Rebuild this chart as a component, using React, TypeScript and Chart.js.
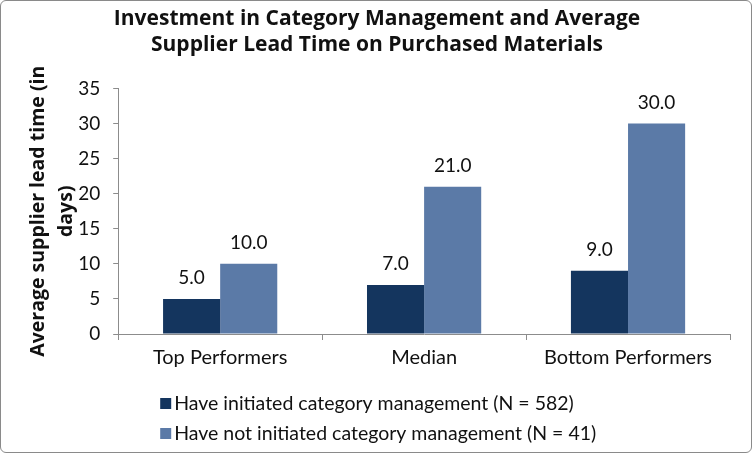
import React, { useEffect, useRef } from "react";
import { Chart, registerables } from "chart.js";

Chart.register(...registerables);

const categories = ["Top Performers", "Median", "Bottom Performers"];
const initiatedLabel = "Have initiated category management (N = 582)";
const notInitiatedLabel = "Have not initiated category management (N = 41)";
const initiatedValues = [5.0, 7.0, 9.0];
const notInitiatedValues = [10.0, 21.0, 30.0];
const yTicks = [0, 5, 10, 15, 20, 25, 30, 35];
const titleLines = [
  "Investment in Category Management and Average",
  "Supplier Lead Time on Purchased Materials",
];
const yTitleLines = ["Average supplier lead time (in", "days)"];

const DARK = "#14355e";
const LIGHT = "#5b7aa7";
const FONT = "Lato, 'Open Sans', sans-serif";
const BOLD_FONT = "'Open Sans', Lato, sans-serif";

const dataLabelPlugin = {
  id: "dataLabels",
  afterDatasetsDraw(chart: any) {
    const ctx = chart.ctx;
    ctx.save();
    ctx.font = `19px ${FONT}`;
    ctx.fillStyle = "#111";
    ctx.textAlign = "center";
    ctx.textBaseline = "alphabetic";
    chart.data.datasets.forEach((ds: any, i: number) => {
      const meta = chart.getDatasetMeta(i);
      meta.data.forEach((bar: any, j: number) => {
        ctx.fillText(Number(ds.data[j]).toFixed(1), bar.x, bar.y - 15);
      });
    });
    ctx.restore();
  },
};

const legendPlugin = {
  id: "customLegend",
  afterDraw(chart: any) {
    const ctx = chart.ctx;
    const area = chart.chartArea;
    ctx.save();
    ctx.font = `19.5px ${FONT}`;
    ctx.textBaseline = "middle";
    ctx.textAlign = "left";
    chart.data.datasets.forEach((ds: any, i: number) => {
      const y = area.bottom + 69 + i * 30;
      const x = area.left + 42;
      ctx.fillStyle = ds.backgroundColor;
      ctx.fillRect(x, y - 5, 11, 11);
      ctx.fillStyle = "#111";
      ctx.fillText(ds.label, x + 14, y + 1);
    });
    ctx.restore();
  },
};

export default function App() {
  const canvasRef = useRef<HTMLCanvasElement | null>(null);

  useEffect(() => {
    document.body.style.margin = "0";
    const canvas = canvasRef.current;
    if (!canvas) return;
    const chart = new Chart(canvas, {
      type: "bar",
      data: {
        labels: categories,
        datasets: [
          {
            label: initiatedLabel,
            data: initiatedValues,
            backgroundColor: DARK,
            barPercentage: 1,
            categoryPercentage: 0.56,
          },
          {
            label: notInitiatedLabel,
            data: notInitiatedValues,
            backgroundColor: LIGHT,
            barPercentage: 1,
            categoryPercentage: 0.56,
          },
        ],
      },
      options: {
        responsive: true,
        maintainAspectRatio: false,
        animation: false,
        layout: { padding: { left: 23, right: 21, top: 5, bottom: 76 } },
        plugins: {
          legend: { display: false },
          tooltip: { enabled: false },
          title: {
            display: true,
            text: titleLines,
            color: "#111",
            font: { family: BOLD_FONT, size: 21, weight: "bold", lineHeight: 1.25 },
            padding: { top: 0, bottom: 30 },
          },
        },
        scales: {
          x: {
            grid: {
              display: true,
              drawOnChartArea: false,
              drawTicks: true,
              tickLength: 6,
              offset: true,
              color: "#8c8c8c",
            },
            border: { display: true, color: "#8c8c8c" },
            ticks: {
              color: "#111",
              font: { family: FONT, size: 20 },
              padding: 6,
            },
          },
          y: {
            min: 0,
            max: 35,
            afterBuildTicks(axis: any) {
              axis.ticks = yTicks.map((v) => ({ value: v }));
            },
            grid: {
              display: true,
              drawOnChartArea: false,
              drawTicks: true,
              tickLength: 5,
              color: "#8c8c8c",
            },
            border: { display: true, color: "#8c8c8c" },
            ticks: {
              color: "#111",
              font: { family: FONT, size: 19 },
              padding: 13,
            },
            title: {
              display: true,
              text: yTitleLines,
              color: "#111",
              font: { family: BOLD_FONT, size: 19.5, weight: "bold", lineHeight: 1.44 },
              padding: { top: 0, bottom: -15 },
            },
          },
        },
      },
      plugins: [dataLabelPlugin, legendPlugin],
    });
    return () => chart.destroy();
  }, []);

  return (
    <div
      style={{
        width: 752,
        height: 453,
        boxSizing: "border-box",
        border: "1.5px solid #8a8a8a",
        borderRadius: 6,
        background: "#fff",
        position: "relative",
      }}
    >
      <div style={{ position: "absolute", left: 0, top: 0, right: 0, bottom: 0 }}>
        <canvas ref={canvasRef} />
      </div>
    </div>
  );
}
